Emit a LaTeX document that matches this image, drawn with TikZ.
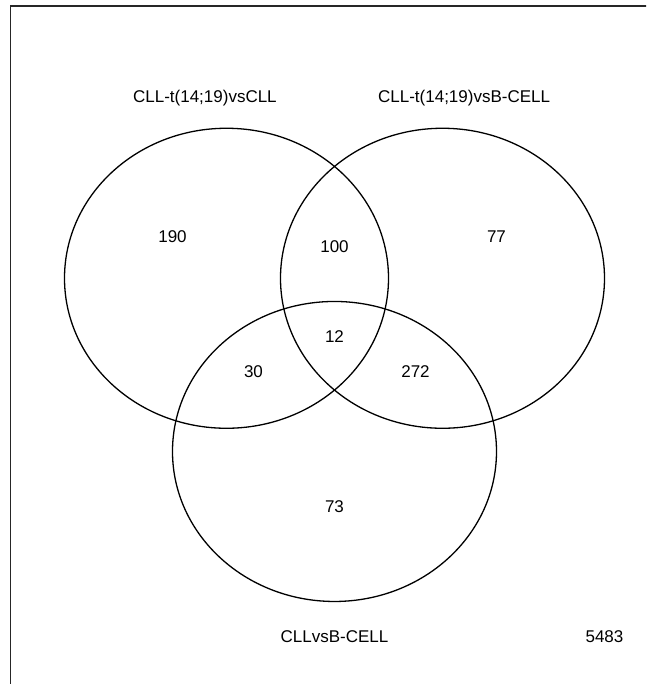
\documentclass[tikz,border=0pt]{standalone}
\usepackage{fontspec}
\setmainfont{Liberation Sans}
\begin{document}
\begin{tikzpicture}[
    x={(108pt,0)}, y={(0,100pt)},
    setline/.style={line width=1.3pt, black},
    frameline/.style={line width=1.4pt, black!85},
    setlabel/.style={inner sep=0pt, text height=12.2pt, text depth=0pt,
                     font=\fontsize{17}{20}\selectfont},
    count/.style={inner sep=0pt, text height=12.2pt, text depth=0pt,
                  font=\fontsize{17}{20}\selectfont}
  ]
  \useasboundingbox (-3.0972,-3.48) rectangle (2.8843,3.36);
  \clip (-3.0972,-3.48) rectangle (2.8843,3.36);

  % frame around the plotting region
  \draw[frameline] (-3,-3.5) rectangle (3,3.3);

  % set centres
  \coordinate (cA) at (-1, 0.57735);
  \coordinate (cB) at ( 1, 0.57735);
  \coordinate (cC) at ( 0,-1.1547);

  % the three sets
  \draw[setline] (cA) ellipse [x radius=162pt, y radius=150pt];
  \draw[setline] (cB) ellipse [x radius=162pt, y radius=150pt];
  \draw[setline] (cC) ellipse [x radius=162pt, y radius=150pt];

  % set names
  \node[setlabel] (nA) at (-1.2, 2.4) {CLL-t(14;19)vsCLL};
  \node[setlabel] (nB) at ( 1.2, 2.4) {CLL-t(14;19)vsB-CELL};
  \node[setlabel] (nC) at ( 0,  -3)   {CLLvsB-CELL};

  % region counts
  \node[count] (n000) at ( 2.5, -3)    {5483};
  \node[count] (n001) at ( 0,   -1.7)  {73};
  \node[count] (n010) at ( 1.5,  1)    {77};
  \node[count] (n011) at ( 0.75,-0.35) {272};
  \node[count] (n100) at (-1.5,  1)    {190};
  \node[count] (n101) at (-0.75,-0.35) {30};
  \node[count] (n110) at ( 0,    0.9)  {100};
  \node[count] (n111) at ( 0,    0)    {12};
\end{tikzpicture}
\end{document}
